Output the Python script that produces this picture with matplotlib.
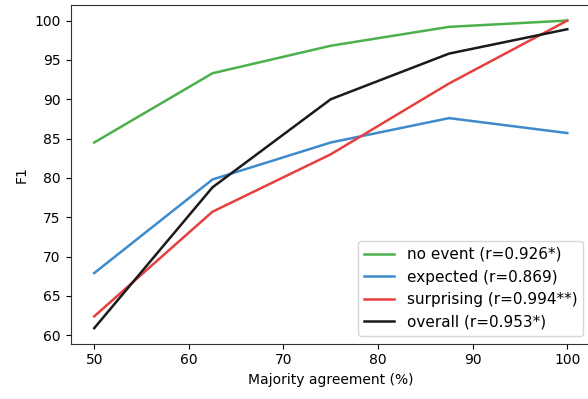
import numpy as np
import matplotlib
matplotlib.use('Agg')
import matplotlib.pyplot as plt

agreement = [50, 62.5, 75, 87.5, 100]
no_event = [84.5, 93.3, 96.8, 99.2, 100.0]
expected = [67.9, 79.8, 84.5, 87.6, 85.7]
surprising = [62.4, 75.7, 83.0, 92.0, 100.0]
overall = [60.9, 78.8, 90.0, 95.8, 98.9]

labels = ['no event (r=0.926*)', 'expected (r=0.869)',
          'surprising (r=0.994**)', 'overall (r=0.953*)']
colors = ['#4cb04c', '#3d8bcd', '#e5403f', '#1a1a1a']

fig = plt.figure(figsize=(5.88, 3.99), dpi=100)
ax = fig.add_axes([0.120, 0.139, 0.885, 0.848])

for ys, lab, c in zip([no_event, expected, surprising, overall], labels, colors):
    ax.plot(agreement, ys, color=c, lw=1.8, label=lab)

ax.set_xlabel('Majority agreement (%)')
ax.set_ylabel('F1')
ax.set_yticks(np.arange(60, 101, 5))
for s in ax.spines.values():
    s.set_color('#333333')
ax.legend(loc='lower right', fontsize=11)

fig.savefig('out.png', dpi=100)
